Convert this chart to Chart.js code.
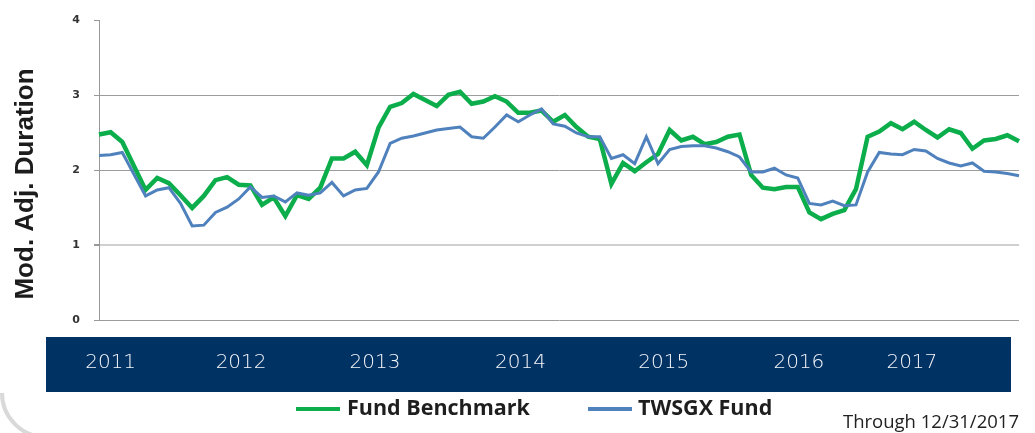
<!DOCTYPE html>
<html><head><meta charset="utf-8">
<script src="https://cdn.jsdelivr.net/npm/chart.js@4.4.0/dist/chart.umd.min.js"></script>
<style>
html,body{margin:0;padding:0;background:#fff;}
#wrap{position:relative;width:1035px;height:433px;overflow:hidden;}
canvas{position:absolute;left:0;top:0;}
.sw{position:absolute;height:4px;width:44px;top:406.5px;}
.lt{position:absolute;white-space:nowrap;font-family:"Open Sans",sans-serif;font-weight:700;font-size:21.5px;line-height:26px;top:394.3px;color:#1e1e1e;}
#note{position:absolute;white-space:nowrap;font-family:"Open Sans",sans-serif;font-size:18.5px;line-height:22px;left:843px;top:409.8px;color:#222;}
</style></head><body>
<div id="wrap"><canvas id="c" width="1035" height="433"></canvas>
<div id="legend"></div>
<div id="note">Through 12/31/2017</div>
</div>
<script>
// ---- data ----
const periods = Array.from({length: 80}, (_, i) => String(i));
const benchmark = [2.48,2.51,2.38,2.06,1.74,1.90,1.83,1.67,1.50,1.66,
  1.87,1.91,1.81,1.80,1.54,1.64,1.39,1.67,1.62,1.77,
  2.16,2.16,2.25,2.07,2.57,2.85,2.90,3.02,2.94,2.86,
  3.01,3.05,2.89,2.92,2.99,2.92,2.77,2.77,2.80,2.65,
  2.74,2.58,2.45,2.42,1.82,2.10,1.99,2.11,2.22,2.54,
  2.40,2.45,2.35,2.38,2.45,2.48,1.94,1.77,1.75,1.78,
  1.78,1.44,1.35,1.42,1.47,1.75,2.45,2.52,2.63,2.55,
  2.65,2.54,2.44,2.55,2.50,2.29,2.40,2.42,2.47,2.39];
const twsgx = [2.20,2.21,2.24,1.95,1.66,1.74,1.77,1.56,1.26,1.27,
  1.44,1.51,1.62,1.78,1.64,1.66,1.58,1.70,1.67,1.70,
  1.84,1.66,1.74,1.76,1.98,2.36,2.43,2.46,2.50,2.54,
  2.56,2.58,2.45,2.43,2.58,2.74,2.65,2.74,2.82,2.62,
  2.59,2.50,2.45,2.45,2.16,2.21,2.09,2.45,2.09,2.28,
  2.32,2.33,2.33,2.30,2.25,2.18,1.98,1.98,2.03,1.94,
  1.90,1.56,1.54,1.59,1.53,1.54,1.98,2.24,2.22,2.21,
  2.28,2.26,2.16,2.10,2.06,2.10,1.99,1.98,1.96,1.93];
const yearLabels = ['2011','2012','2013','2014','2015','2016','2017'];
const yearTickPos = [1.0, 12.2, 23.7, 36.2, 48.5, 60.1, 69.8];
const seriesNames = ['Fund Benchmark', 'TWSGX Fund'];
const yTitle = 'Mod. Adj. Duration';

const GREEN = '#0CAE4C', BLUE = '#4F81BD';

const decor = {
  id: 'decor',
  beforeDraw(chart) {
    const c = chart.ctx;
    c.save();
    c.fillStyle = '#013264';
    c.fillRect(46, 337, 965, 55);
    c.strokeStyle = '#d9d9d9';
    c.lineWidth = 4;
    c.beginPath();
    c.arc(46, 393, 44, Math.PI / 2, Math.PI);
    c.stroke();
    c.restore();
  },
  afterDraw(chart) {
    const c = chart.ctx;
    c.save();
    c.translate(33, 184);
    c.rotate(-Math.PI / 2);
    c.font = 'bold 26px "Liberation Sans", Arial, sans-serif';
    c.fillStyle = '#1c1c1c';
    c.textAlign = 'center';
    c.textBaseline = 'alphabetic';
    c.fillText(yTitle, 0, 0);
    c.restore();
  }
};

const chart = new Chart(document.getElementById('c'), {
  type: 'line',
  data: {
    labels: periods,
    datasets: [
      { label: seriesNames[0], data: benchmark, borderColor: GREEN, backgroundColor: GREEN,
        borderWidth: 4.5, pointRadius: 0, tension: 0, order: 2, xAxisID: 'x', yAxisID: 'y' },
      { label: seriesNames[1], data: twsgx, borderColor: BLUE, backgroundColor: BLUE,
        borderWidth: 3, pointRadius: 0, tension: 0, order: 1, xAxisID: 'x', yAxisID: 'y' }
    ]
  },
  options: {
    responsive: false,
    animation: false,
    events: [],
    layout: { padding: { left: 0, right: 16, top: 19, bottom: 0 } },
    plugins: { legend: { display: false }, tooltip: { enabled: false } },
    scales: {
      x: { type: 'category', display: false, offset: false },
      yr: {
        type: 'linear', position: 'bottom', min: 0, max: periods.length - 1,
        grid: { display: false, drawTicks: false },
        border: { display: false },
        afterBuildTicks: (s) => { s.ticks = yearTickPos.map(v => ({ value: v })); },
        afterFit: (s) => { s.height = 433 - 320.3; },
        ticks: {
          autoSkip: false, maxRotation: 0, padding: 30.5,
          color: '#f4f6fa',
          font: { family: '"DejaVu Sans", sans-serif', size: 20, weight: 200 },
          callback: (v, i) => yearLabels[i]
        }
      },
      y: {
        min: 0, max: 4,
        afterFit: (s) => { s.width = 99; },
        ticks: { stepSize: 1, padding: 14, color: '#333',
          font: { family: '"DejaVu Sans", sans-serif', size: 11, weight: 'bold' } },
        grid: {
          tickLength: 5,
          tickColor: '#999',
          color: (ctx) => ctx.tick && ctx.tick.value === 4 ? 'rgba(0,0,0,0)' : (ctx.tick && ctx.tick.value === 1 ? '#d0d0d0' : '#9c9c9c'),
          lineWidth: (ctx) => ctx.tick && ctx.tick.value === 1 ? 2 : 1
        },
        border: { color: '#999', width: 1 }
      }
    }
  },
  plugins: [decor]
});

// HTML legend built from datasets
const lg = document.getElementById('legend');
const swX = [296, 588], txX = [347, 638];
chart.data.datasets.forEach((ds, i) => {
  const sw = document.createElement('div');
  sw.className = 'sw'; sw.style.left = swX[i] + 'px'; sw.style.background = ds.borderColor;
  const tx = document.createElement('div');
  tx.className = 'lt'; tx.style.left = txX[i] + 'px'; tx.textContent = ds.label;
  lg.appendChild(sw); lg.appendChild(tx);
});
</script>
</body></html>
